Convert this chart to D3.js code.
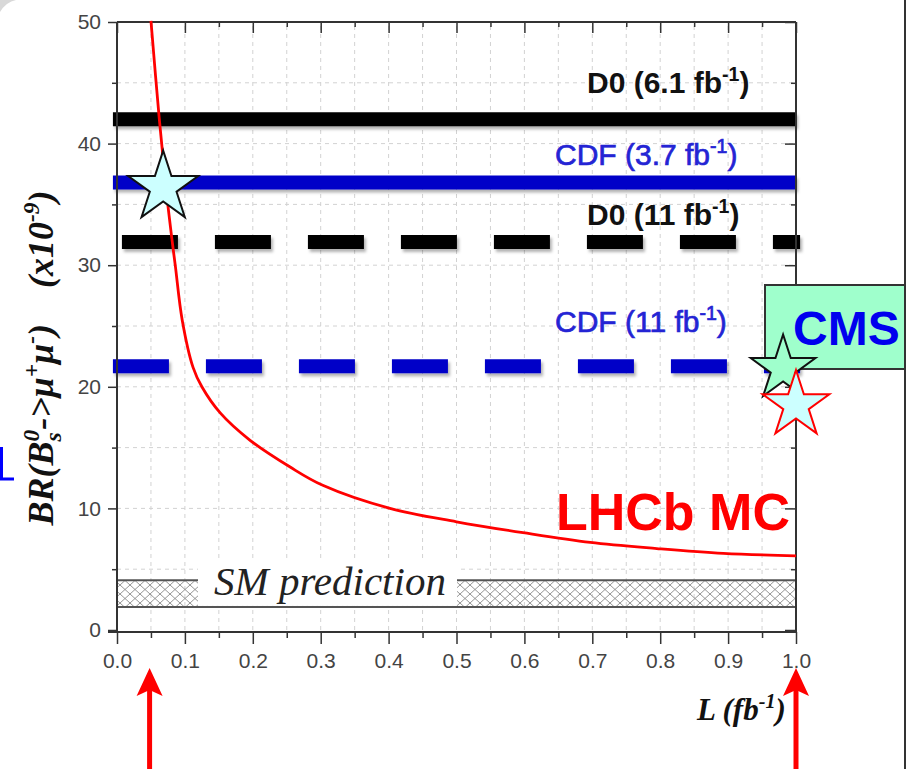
<!DOCTYPE html>
<html>
<head>
<meta charset="utf-8">
<script src="https://cdn.jsdelivr.net/npm/d3@7"></script>
<style>
  body { margin: 0; background: #fff; }
  svg { display: block; }
  .sans { font-family: Arial, "Liberation Sans", sans-serif; }
  .serif { font-family: "Times New Roman", "Liberation Serif", serif; }
</style>
</head>
<body>
<svg id="chart" width="907" height="769"></svg>
<script>
// LHCb MC expected limit vs integrated luminosity
const lumi = [0.050, 0.062, 0.072, 0.081, 0.086, 0.096, 0.112, 0.125, 0.152, 0.196, 0.255, 0.303, 0.402, 0.500, 0.598, 0.697, 0.795, 0.893, 1.000];
const brMC = [50.1, 42.2, 36.4, 32.1, 29.9, 25.5, 21.6, 20.0, 17.85, 15.6, 13.4, 11.9, 10.0, 8.9, 8.0, 7.2, 6.7, 6.3, 6.1];

// Tevatron limits (horizontal lines)
const limitExp = ["D0", "CDF", "D0", "CDF"];
const limitLumi = ["6.1", "3.7", "11", "11"];
const limitValues = [42.0, 36.8, 31.9, 21.7];
const limitDashed = [false, false, true, true];

// SM prediction band
const smBand = [1.9, 4.1];

// star markers
const starL = [0.068, 0.981, 1.000];
const starBR = [36.4, 21.5, 18.5];

// arrows under the x axis
const arrowL = [0.048, 1.0];

// ticks
const xMajor = [0, 0.1, 0.2, 0.3, 0.4, 0.5, 0.6, 0.7, 0.8, 0.9, 1.0];
const xMinor = [0.05, 0.15, 0.25, 0.35, 0.45, 0.55, 0.65, 0.75, 0.85, 0.95];
const yMajor = [0, 10, 20, 30, 40, 50];
const yMinor = [5, 15, 25, 35, 45];

const svg = d3.select("#chart");
const x = d3.scaleLinear().domain([0, 1]).range([117, 796]);
const y = d3.scaleLinear().domain([0, 50]).range([630, 22]);

const defs = svg.append("defs");
const hatch = defs.append("pattern")
  .attr("id", "hatch").attr("patternUnits", "userSpaceOnUse")
  .attr("width", 10).attr("height", 9);
hatch.append("path").attr("d", "M0,0L10,9M10,0L0,9")
  .attr("stroke", "#8a8a8a").attr("stroke-width", 0.9);

const shadow = defs.append("filter").attr("id", "shadow")
  .attr("x", "-5%").attr("y", "-50%").attr("width", "110%").attr("height", "200%");
shadow.append("feDropShadow").attr("dx", 2).attr("dy", 3)
  .attr("stdDeviation", 1.5).attr("flood-color", "#000").attr("flood-opacity", 0.3);

// --- grid ---
const grid = svg.append("g").attr("stroke", "#d2d2d2").attr("stroke-dasharray", "4,4").attr("stroke-width", 1);
grid.selectAll("line.gx").data(xMajor.concat(xMinor).filter(d => d > 0 && d < 1))
  .join("line").attr("class", "gx")
  .attr("x1", d => x(d)).attr("x2", d => x(d)).attr("y1", y(0)).attr("y2", y(50));
grid.selectAll("line.gy").data(yMajor.concat(yMinor).filter(d => d > 0 && d < 50))
  .join("line").attr("class", "gy")
  .attr("y1", d => y(d)).attr("y2", d => y(d)).attr("x1", x(0)).attr("x2", x(1));

// --- SM band ---
svg.append("rect")
  .attr("x", x(0)).attr("y", y(smBand[1]))
  .attr("width", x(1) - x(0)).attr("height", y(smBand[0]) - y(smBand[1]))
  .attr("fill", "url(#hatch)");
svg.append("line").attr("x1", x(0)).attr("x2", x(1))
  .attr("y1", y(smBand[1])).attr("y2", y(smBand[1]))
  .attr("stroke", "#555").attr("stroke-width", 2);
svg.append("line").attr("x1", x(0)).attr("x2", x(1))
  .attr("y1", y(smBand[0])).attr("y2", y(smBand[0]))
  .attr("stroke", "#555").attr("stroke-width", 2);
svg.append("rect").attr("x", 198).attr("y", 562).attr("width", 259).attr("height", y(smBand[0]) - 563)
  .attr("fill", "#fff");
svg.append("text").attr("class", "serif")
  .attr("x", 214).attr("y", 595)
  .attr("font-size", 41).attr("font-style", "italic").attr("fill", "#222")
  .text("SM prediction");

// --- limit lines ---
const limitColor = limitExp.map(e => e === "D0" ? "#000" : "#0000c8");
svg.append("g").attr("filter", "url(#shadow)")
  .selectAll("line").data(limitValues).join("line")
  .attr("x1", x(-0.006)).attr("x2", (d, i) => limitDashed[i] ? x(1.006) : x(1))
  .attr("y1", d => y(d)).attr("y2", d => y(d))
  .attr("stroke", (d, i) => limitColor[i])
  .attr("stroke-width", 14)
  .attr("stroke-dasharray", (d, i) => limitDashed[i] ? "56,37" : null)
  .attr("stroke-dashoffset", (d, i) => limitDashed[i] && limitExp[i] === "D0" ? 84 : 0);

// --- axes ---
function styleAxis(g) {
  g.select(".domain").remove();
  g.selectAll(".tick line").attr("stroke", "#333").attr("stroke-width", 1.5);
  g.selectAll(".tick text").attr("class", "sans").attr("font-size", 21).attr("fill", "#444");
}
svg.append("g").attr("transform", "translate(0,632)")
  .call(d3.axisBottom(x).tickValues(xMajor).tickSize(12).tickPadding(9).tickFormat(d3.format(".1f")))
  .call(styleAxis);
svg.append("g").attr("transform", "translate(0,632)")
  .call(d3.axisBottom(x).tickValues(xMinor).tickSize(6).tickFormat(""))
  .call(styleAxis);
svg.append("g").attr("transform", "translate(117,0)")
  .call(d3.axisLeft(y).tickValues(yMajor).tickSize(9).tickPadding(7).tickFormat(d3.format("d")))
  .call(styleAxis);
svg.append("g").attr("transform", "translate(117,0)")
  .call(d3.axisLeft(y).tickValues(yMinor).tickSize(5).tickFormat(""))
  .call(styleAxis);
// top and right: inward ticks, no labels
svg.append("g").attr("transform", "translate(0,22)")
  .call(d3.axisBottom(x).tickValues(xMajor).tickSize(11).tickFormat(""))
  .call(styleAxis);
svg.append("g").attr("transform", "translate(0,22)")
  .call(d3.axisBottom(x).tickValues(xMinor).tickSize(5).tickFormat(""))
  .call(styleAxis);
svg.append("g").attr("transform", "translate(796,0)")
  .call(d3.axisLeft(y).tickValues(yMajor).tickSize(11).tickFormat(""))
  .call(styleAxis);
svg.append("g").attr("transform", "translate(796,0)")
  .call(d3.axisLeft(y).tickValues(yMinor).tickSize(5).tickFormat(""))
  .call(styleAxis);

const frame = svg.append("g").attr("stroke", "#333").attr("stroke-width", 2).attr("fill", "none");
frame.append("line").attr("x1", 108).attr("x2", x(1)).attr("y1", 632).attr("y2", 632);
frame.append("line").attr("x1", x(0)).attr("x2", x(0)).attr("y1", y(50)).attr("y2", 632);
frame.append("line").attr("x1", x(0)).attr("x2", x(1)).attr("y1", y(50)).attr("y2", y(50));
frame.append("line").attr("x1", x(1)).attr("x2", x(1)).attr("y1", y(50)).attr("y2", 632);

// --- LHCb MC curve ---
const line = d3.line().x((d, i) => x(lumi[i])).y(d => y(d)).curve(d3.curveCatmullRom.alpha(0.5));
svg.append("path").datum(brMC)
  .attr("d", line).attr("fill", "none").attr("stroke", "#ff0000").attr("stroke-width", 2.8);

// --- limit labels ---
function rich(sel, parts, size) {
  let shift = 0;
  parts.forEach(p => {
    const target = p.sup ? -size * 0.4 : p.sub ? size * 0.22 : 0;
    const ts = sel.append("tspan").text(p.t).attr("dy", target - shift);
    if (p.dx) ts.attr("dx", p.dx);
    if (p.sup || p.sub) ts.attr("font-size", size * 0.65);
    shift = target;
  });
}
const labelX = [587, 555, 587, 555];
const labelY = [93, 165, 225, 332];
limitExp.forEach((e, i) => {
  const d0 = e === "D0";
  const size = 30;
  const t = svg.append("text").attr("class", "sans")
    .attr("x", labelX[i]).attr("y", labelY[i])
    .attr("font-size", size)
    .attr("font-weight", d0 ? "bold" : "normal")
    .attr("fill", d0 ? "#111" : "#2424d4")
    .attr("stroke", d0 ? null : "#2424d4")
    .attr("stroke-width", d0 ? null : 0.7);
  rich(t, [{ t: `${e} (${limitLumi[i]} fb` }, { t: "-1", sup: true }, { t: ")" }], size);
});

svg.append("text").attr("class", "sans")
  .attr("x", 556).attr("y", 530)
  .attr("font-size", 52).attr("font-weight", "bold").attr("fill", "#ff0000")
  .text("LHCb MC");

// --- CMS box ---
svg.append("rect").attr("x", 765).attr("y", 285).attr("width", 140).attr("height", 84)
  .attr("fill", "#9fffcc").attr("stroke", "#333").attr("stroke-width", 2);
svg.append("text").attr("class", "sans")
  .attr("x", 793).attr("y", 345)
  .attr("font-size", 48).attr("font-weight", "bold").attr("fill", "#0000ee")
  .text("CMS");

// --- stars ---
const starFill = ["#ccffff", "#9fffcc", "#ccffff"];
const starStroke = ["#111", "#111", "#ff0000"];
const starSize = [1520, 1300, 1380];
svg.selectAll("path.star").data(starL).join("path")
  .attr("class", "star")
  .attr("transform", (d, i) => `translate(${x(d)},${y(starBR[i])})`)
  .attr("d", (d, i) => d3.symbol(d3.symbolStar, starSize[i])())
  .attr("fill", (d, i) => starFill[i])
  .attr("stroke", (d, i) => starStroke[i])
  .attr("stroke-width", 2)
  .attr("stroke-linejoin", "miter");

// --- axis titles ---
const yt = svg.append("text").attr("class", "serif")
  .attr("transform", "translate(53,358) rotate(-90)")
  .attr("text-anchor", "middle")
  .attr("font-size", 36).attr("font-weight", "bold").attr("font-style", "italic").attr("fill", "#111");
rich(yt, [
  { t: "BR(B" }, { t: "s", sub: true }, { t: "0", sup: true, dx: -9 },
  { t: "->\u03bc" }, { t: "+", sup: true }, { t: "\u03bc" }, { t: "-", sup: true },
  { t: ")\u00a0\u00a0\u00a0\u00a0(x10" }, { t: "-9", sup: true }, { t: ")" }
], 36);

const xt = svg.append("text").attr("class", "serif")
  .attr("x", 697).attr("y", 720)
  .attr("font-size", 31).attr("font-weight", "bold").attr("font-style", "italic").attr("fill", "#111");
rich(xt, [{ t: "L (fb" }, { t: "-1", sup: true }, { t: ")" }], 31);

// --- arrows ---
const arrows = svg.append("g").attr("fill", "#ff0000").attr("stroke", "#ff0000");
arrowL.forEach(l => {
  const ax = x(l);
  arrows.append("line").attr("x1", ax).attr("x2", ax).attr("y1", 688).attr("y2", 769).attr("stroke-width", 5);
  arrows.append("path").attr("stroke", "none")
    .attr("d", `M${ax},668L${ax + 13},696L${ax},690L${ax - 13},696Z`);
});

// --- bits of the surrounding slide ---
svg.append("line").attr("x1", 905).attr("x2", 905).attr("y1", 0).attr("y2", 769)
  .attr("stroke", "#333").attr("stroke-width", 2);
svg.append("path").attr("d", "M1.5,447V479H14").attr("fill", "none")
  .attr("stroke", "#0000ff").attr("stroke-width", 3);
svg.append("path").attr("d", "M0,0H16Q6,2 0,12Z").attr("fill", "#d8d8d8");
</script>
</body>
</html>
